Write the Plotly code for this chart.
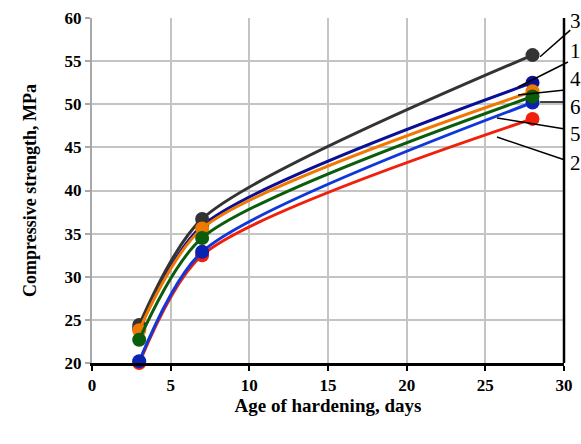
import plotly.graph_objects as go

days = [3, 7, 28]
series_names = ["1", "2", "3", "4", "5", "6"]
s1 = [24.0, 35.9, 52.5]
s2 = [20.0, 32.5, 48.3]
s3 = [24.4, 36.7, 55.7]
s4 = [23.8, 35.6, 51.5]
s5 = [20.2, 32.9, 50.2]
s6 = [22.7, 34.5, 50.9]
colors = {"1": "#0a0f96", "2": "#f0200a", "3": "#333333", "4": "#f07800",
          "5": "#1038d8", "6": "#0b5c0b"}
marker_colors = {"1": "#0a0f96", "2": "#f0200a", "3": "#333333", "4": "#f07800",
                 "5": "#0a22b0", "6": "#0b5c0b"}
values = {"1": s1, "2": s2, "3": s3, "4": s4, "5": s5, "6": s6}
draw_order = ["2", "5", "1", "3", "4", "6"]

x_ticks = [0, 5, 10, 15, 20, 25, 30]
y_ticks = [20, 25, 30, 35, 40, 45, 50, 55, 60]

# leader lines (label -> curve), in data units
leaders = {
    "3": ((30.4, 58.6), (28.48, 55.5)),
    "1": ((30.25, 54.9), (27.08, 52.0)),
    "4": ((30.06, 51.65), (27.08, 51.07)),
    "6": ((30.06, 50.26), (28.48, 50.26)),
    "5": ((30.06, 47.13), (25.74, 48.41)),
    "2": ((30.06, 43.54), (25.74, 46.2)),
}
label_y = {"3": 59.7, "1": 56.2, "4": 52.9, "6": 49.7, "5": 46.6, "2": 43.2}

fig = go.Figure()
for k in draw_order:
    fig.add_trace(go.Scatter(
        x=days, y=values[k], mode="lines+markers", name=k,
        line=dict(color=colors[k], width=3, shape="spline", smoothing=0.75),
        marker=dict(color=marker_colors[k], size=14),
        showlegend=False, cliponaxis=False))

X0, X1, Y0, Y1 = 0, 30, 20, 60
def px(x):
    return (x - X0) / (X1 - X0)
def py(y):
    return (y - Y0) / (Y1 - Y0)

shapes = []
for k, ((xa, ya), (xb, yb)) in leaders.items():
    shapes.append(dict(type="line", xref="paper", yref="paper",
                       x0=px(xa), y0=py(ya), x1=px(xb), y1=py(yb),
                       line=dict(color="black", width=1.5)))
# right border
shapes.append(dict(type="line", xref="paper", yref="paper", x0=1, x1=1, y0=0, y1=1,
                   line=dict(color="black", width=2.5)))

annotations = []
for k, yv in label_y.items():
    annotations.append(dict(text=k, xref="paper", yref="paper", x=px(30.72), y=py(yv),
                            xanchor="center", yanchor="middle", showarrow=False,
                            font=dict(family="Liberation Serif", size=21, color="black")))

fig.update_layout(
    width=581, height=444,
    margin=dict(l=92, r=17, t=18, b=81, autoexpand=False),
    paper_bgcolor="white", plot_bgcolor="white",
    shapes=shapes, annotations=annotations,
    font=dict(family="Liberation Serif", color="black"),
    xaxis=dict(range=[X0, X1], tickvals=x_ticks, showgrid=True, gridcolor="#c4c4c4",
               gridwidth=2, zeroline=False, showline=True, linecolor="black", linewidth=2.5,
               ticks="outside", ticklen=5, tickwidth=2, tickcolor="black", automargin=False,
               tickfont=dict(family="Liberation Serif", size=17, color="black", weight="bold"),
               title=dict(text="<b>Age of hardening, days</b>", standoff=4,
                          font=dict(family="Liberation Serif", size=19, color="black"))),
    yaxis=dict(range=[Y0, Y1], tickvals=y_ticks, showgrid=True, gridcolor="#c4c4c4",
               gridwidth=2, zeroline=False, showline=True, linecolor="#a8a8a8", linewidth=2,
               ticks="outside", ticklen=5, tickwidth=2, tickcolor="#a8a8a8", automargin=False,
               tickfont=dict(family="Liberation Serif", size=17, color="black", weight="bold"),
               title=dict(text="<b>Compressive strength, MPa</b>", standoff=23,
                          font=dict(family="Liberation Serif", size=18, color="black"))),
)

fig.write_html("out.html", config={"displayModeBar": False},
               post_script="document.body.style.margin='0';document.body.style.padding='0';")
